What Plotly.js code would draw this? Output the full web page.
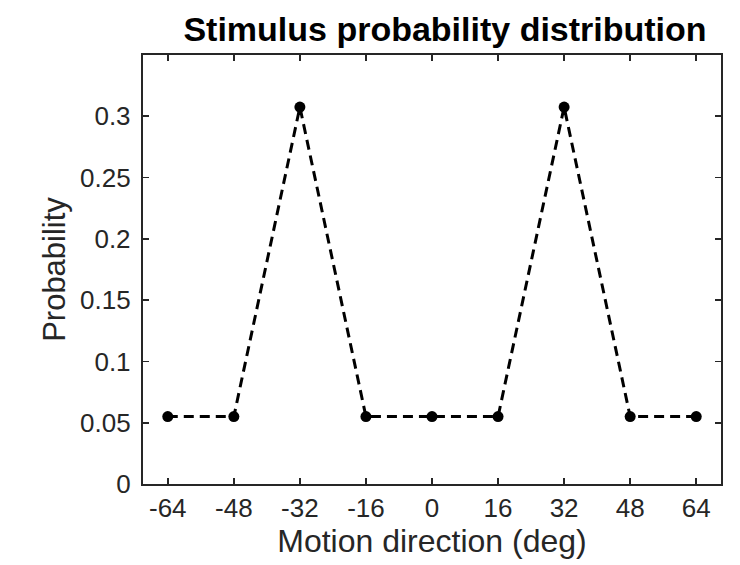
<!DOCTYPE html>
<html><head><meta charset="utf-8">
<script src="https://cdn.plot.ly/plotly-3.0.1.min.js"></script>
<style>html,body{margin:0;padding:0;background:#fff}#c{width:740px;height:565px}</style>
</head><body><div id="c"></div>
<script>
const directions = [-64, -48, -32, -16, 0, 16, 32, 48, 64];
const probability = [0.055, 0.055, 0.3075, 0.055, 0.055, 0.055, 0.3075, 0.055, 0.055];
const xTicks = [-64, -48, -32, -16, 0, 16, 32, 48, 64];
const yTicks = [0, 0.05, 0.1, 0.15, 0.2, 0.25, 0.3];
const yTickText = ['0', '0.05', '0.1', '0.15', '0.2', '0.25', '0.3'];

const FONT = 'Liberation Sans, Arial, Helvetica, sans-serif';
const axisCommon = {
  showgrid: false, zeroline: false, showline: true, linecolor: '#262626', linewidth: 2.2,
  mirror: 'allticks', ticks: 'inside', ticklen: 6, tickwidth: 1.8, tickcolor: '#262626',
  tickfont: {family: FONT, size: 26, color: '#262626'}
};
Plotly.newPlot('c', [{
  x: directions, y: probability, type: 'scatter', mode: 'lines+markers',
  line: {color: '#000', width: 3, dash: '10px,6px'},
  marker: {color: '#000', size: 11}
}], {
  width: 740, height: 565,
  margin: {l: 143, r: 19, t: 55, b: 81},
  paper_bgcolor: '#fff', plot_bgcolor: '#fff',
  showlegend: false,
  title: {text: '<b>Stimulus probability distribution</b>', x: 445/740, xanchor: 'center', y: 1 - 29/565, yanchor: 'middle',
    font: {family: FONT, size: 34, color: '#000'}},
  xaxis: Object.assign({}, axisCommon, {range: [-70, 70], tickvals: xTicks, ticktext: xTicks.map(String),
    ticklabelstandoff: 0,
    title: {text: 'Motion direction (deg)', standoff: 7, font: {family: FONT, size: 32, color: '#262626'}}}),
  yaxis: Object.assign({}, axisCommon, {range: [0, 0.35], tickvals: yTicks, ticktext: yTickText,
    ticklabelstandoff: 5,
    title: {text: 'Probability', standoff: 5, font: {family: FONT, size: 31, color: '#262626'}}})
}, {displayModeBar: false, staticPlot: true});
</script></body></html>
